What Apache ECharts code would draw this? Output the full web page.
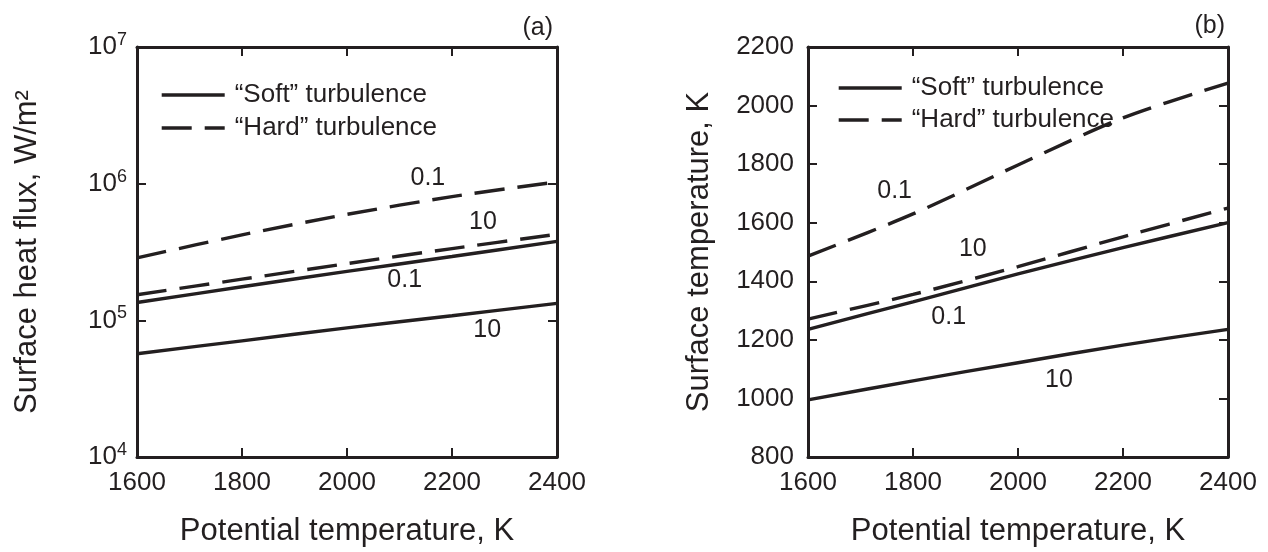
<!DOCTYPE html>
<html>
<head>
<meta charset="utf-8">
<script src="https://cdn.jsdelivr.net/npm/echarts@6/dist/echarts.min.js"></script>
<style>
html,body{margin:0;padding:0;background:#fff;}
#chart{width:1268px;height:552px;}
</style>
</head>
<body>
<div id="chart"></div>
<script>
// ---- data ----
const potentialT = [1600, 1800, 2000, 2200, 2400];
// (a) surface heat flux, W/m^2
const fluxSoft01 = [1.35e5, 1.76e5, 2.28e5, 2.93e5, 3.78e5];
const fluxSoft10 = [5.7e4, 7.08e4, 8.81e4, 1.08e5, 1.33e5];
const fluxHard01 = [2.86e5, 4.22e5, 5.96e5, 8.04e5, 1.03e6];
const fluxHard10 = [1.54e5, 2.0e5, 2.6e5, 3.35e5, 4.26e5];
// (b) surface temperature, K
const tempSoft01 = [1236, 1330, 1425, 1515, 1600];
const tempSoft10 = [995, 1060, 1122, 1182, 1236];
const tempHard01 = [1486, 1630, 1797, 1958, 2077];
const tempHard10 = [1271, 1355, 1450, 1552, 1650];
// curve annotations [x, y, text]
const notesA = [[2154, 1.09e6, '0.1'], [2259, 5.2e5, '10'], [2110, 1.96e5, '0.1'], [2267, 8.5e4, '10']];
const notesB = [[1765, 1707, '0.1'], [1914, 1510, '10'], [1868, 1277, '0.1'], [2078, 1063, '10']];
const xTicks = {min: 1600, max: 2400, interval: 200};
const softName = '\u201CSoft\u201D turbulence';
const hardName = '\u201CHard\u201D turbulence';

const INK = '#231f20';
const FONT = '"Liberation Sans", Arial, sans-serif';
const DASH = [30, 13];

function pairs(ys) { return potentialT.map((x, i) => [x, ys[i]]); }

function lineSeries(name, ys, dashed, gi) {
  return {
    type: 'line', name: name, xAxisIndex: gi * 2, yAxisIndex: gi * 2,
    data: pairs(ys), symbol: 'none', showSymbol: false, smooth: 0.3, silent: true,
    lineStyle: {color: INK, width: 3.4, type: dashed ? DASH : 'solid'},
    itemStyle: {color: INK}
  };
}
function noteSeries(notes, gi) {
  return {
    type: 'scatter', xAxisIndex: gi * 2, yAxisIndex: gi * 2, silent: true,
    data: notes, symbolSize: 1, itemStyle: {color: '#ffffff', opacity: 0},
    label: {show: true, position: 'inside', formatter: p => p.data[2], opacity: 1,
      color: INK, fontFamily: FONT, fontSize: 25, textBorderWidth: 0}
  };
}

const grids = [
  {left: 137, top: 47, width: 420, height: 414},
  {left: 808, top: 47, width: 420, height: 414}
];
const axisLine = {show: true, onZero: false, lineStyle: {color: INK, width: 3}};
const tickIn = {show: true, inside: true, length: 9, lineStyle: {color: INK, width: 2}};
const labelStyle = {color: INK, fontFamily: FONT, fontSize: 26, formatter: v => String(v)};
const nameStyle = {color: INK, fontFamily: FONT, fontSize: 31};

function xAxes(gi) {
  return [
    {type: 'value', gridIndex: gi, position: 'bottom', min: xTicks.min, max: xTicks.max, interval: xTicks.interval,
      axisLine: axisLine, axisTick: tickIn, splitLine: {show: false},
      axisLabel: Object.assign({margin: 13}, labelStyle),
      name: 'Potential temperature, K', nameLocation: 'middle', nameGap: 59, nameTextStyle: nameStyle},
    {type: 'value', gridIndex: gi, position: 'top', min: xTicks.min, max: xTicks.max, interval: xTicks.interval,
      axisLine: axisLine, axisTick: tickIn, splitLine: {show: false}, axisLabel: {show: false}}
  ];
}

const yAxes = [
  {type: 'log', gridIndex: 0, position: 'left', min: 1e4, max: 1e7, logBase: 10,
    axisLine: axisLine, axisTick: tickIn, splitLine: {show: false}, minorTick: {show: false},
    axisLabel: {margin: 10, color: INK, fontFamily: FONT,
      formatter: v => '{b|10}{s|' + Math.round(Math.log10(v)) + '}',
      rich: {b: {fontSize: 26, fontFamily: FONT, color: INK},
             s: {fontSize: 18, fontFamily: FONT, color: INK, padding: [0, 0, 14, 0]}}},
    name: 'Surface heat flux, W/m\u00B2', nameLocation: 'middle', nameGap: 94, nameTextStyle: nameStyle},
  {type: 'log', gridIndex: 0, position: 'right', min: 1e4, max: 1e7, logBase: 10,
    axisLine: axisLine, axisTick: tickIn, splitLine: {show: false}, axisLabel: {show: false}},
  {type: 'value', gridIndex: 1, position: 'left', min: 800, max: 2200, interval: 200,
    axisLine: axisLine, axisTick: tickIn, splitLine: {show: false},
    axisLabel: Object.assign({margin: 14}, labelStyle),
    name: 'Surface temperature, K', nameLocation: 'middle', nameGap: 93, nameTextStyle: nameStyle},
  {type: 'value', gridIndex: 1, position: 'right', min: 800, max: 2200, interval: 200,
    axisLine: axisLine, axisTick: tickIn, splitLine: {show: false}, axisLabel: {show: false}}
];

function legend(left, top, gap) {
  return {
    left: left, top: top, orient: 'vertical', itemWidth: 63, itemHeight: 14, itemGap: gap,
    selectedMode: false,
    itemStyle: {opacity: 0, borderWidth: 0},
    textStyle: {color: INK, fontFamily: FONT, fontSize: 26, lineHeight: 25, padding: [0, 0, 0, 5]},
    data: [
      {name: softName, itemStyle: {opacity: 0}, lineStyle: {color: INK, width: 3.4, type: 'solid'}},
      {name: hardName, itemStyle: {opacity: 0}, lineStyle: {color: INK, width: 3.4, type: DASH}}
    ]
  };
}

const option = {
  backgroundColor: '#fff',
  animation: false,
  title: [
    {text: '(a)', right: 1268 - 558, top: 11, textStyle: {color: INK, fontFamily: FONT, fontSize: 25, fontWeight: 'normal'}},
    {text: '(b)', right: 1268 - 1230, top: 9, textStyle: {color: INK, fontFamily: FONT, fontSize: 25, fontWeight: 'normal'}}
  ],
  grid: grids,
  xAxis: xAxes(0).concat(xAxes(1)),
  yAxis: yAxes,
  legend: [legend(155, 77, 7), legend(832, 70, 6)],
  series: [
    lineSeries(softName, fluxSoft01, false, 0),
    lineSeries(softName, fluxSoft10, false, 0),
    lineSeries(hardName, fluxHard01, true, 0),
    lineSeries(hardName, fluxHard10, true, 0),
    noteSeries(notesA, 0),
    lineSeries(softName, tempSoft01, false, 1),
    lineSeries(softName, tempSoft10, false, 1),
    lineSeries(hardName, tempHard01, true, 1),
    lineSeries(hardName, tempHard10, true, 1),
    noteSeries(notesB, 1)
  ]
};

const chart = echarts.init(document.getElementById('chart'), null, {renderer: 'canvas'});
chart.setOption(option);
</script>
</body>
</html>
